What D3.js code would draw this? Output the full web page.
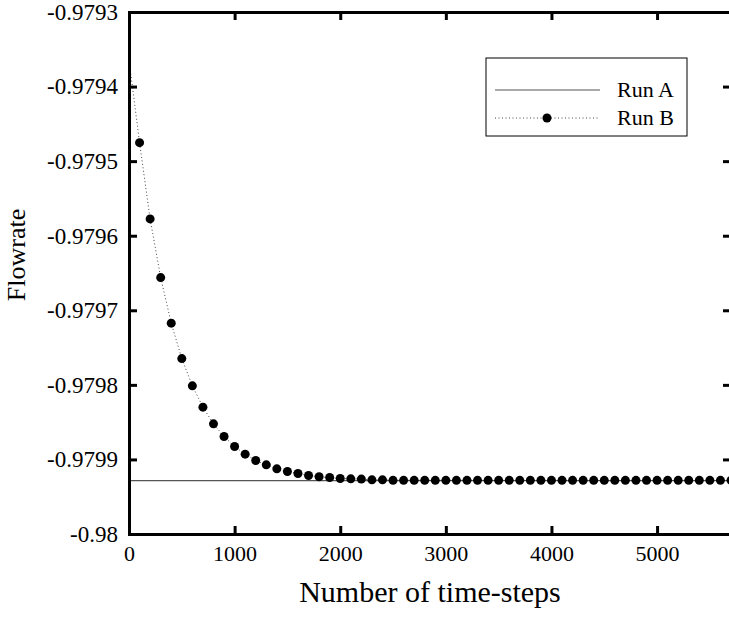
<!DOCTYPE html>
<html>
<head>
<meta charset="utf-8">
<script src="https://cdn.jsdelivr.net/npm/d3@7"></script>
<style>
  body { margin: 0; background: #fff; }
  svg text { font-family: "Liberation Serif", "DejaVu Serif", serif; fill: #000; }
</style>
</head>
<body>
<div id="chart"></div>
<script>
const width = 729;
const height = 620;
const margin = { left: 129, right: -2, top: 12, bottom: 86 };

// Run B, sampled every 100 time-steps
const run_b_steps = [0, 100, 200, 300, 400, 500, 600, 700, 800, 900,
  1000, 1100, 1200, 1300, 1400, 1500, 1600, 1700, 1800, 1900,
  2000, 2100, 2200, 2300, 2400, 2500, 2600, 2700, 2800, 2900,
  3000, 3100, 3200, 3300, 3400, 3500, 3600, 3700, 3800, 3900,
  4000, 4100, 4200, 4300, 4400, 4500, 4600, 4700, 4800, 4900,
  5000, 5100, 5200, 5300, 5400, 5500, 5600, 5700];
const run_b_flow = [-0.979364, -0.9794752, -0.9795775, -0.9796562, -0.9797173, -0.9797648, -0.9798013, -0.9798299, -0.9798523, -0.9798693,
  -0.9798827, -0.9798929, -0.9799015, -0.9799073, -0.9799126, -0.9799162, -0.9799189, -0.9799216, -0.9799233, -0.9799243,
  -0.9799256, -0.979926, -0.9799264, -0.9799274, -0.9799274, -0.979928, -0.979928, -0.979928, -0.979928, -0.979928,
  -0.979928, -0.979928, -0.979928, -0.979928, -0.979928, -0.979928, -0.979928, -0.979928, -0.979928, -0.979928,
  -0.979928, -0.979928, -0.979928, -0.979928, -0.979928, -0.979928, -0.979928, -0.979928, -0.979928, -0.979928,
  -0.979928, -0.979928, -0.979928, -0.979928, -0.979928, -0.979928, -0.979928, -0.979928];

// Run A is flat
const run_a_steps = [0, 5700];
const run_a_flow = [-0.9799283, -0.9799283];

const x_ticks = [0, 1000, 2000, 3000, 4000, 5000];
const y_ticks = [-0.9793, -0.9794, -0.9795, -0.9796, -0.9797, -0.9798, -0.9799, -0.98];
const y_tick_labels = ['-0.9793', '-0.9794', '-0.9795', '-0.9796', '-0.9797', '-0.9798', '-0.9799', '-0.98'];
const series_names = ['Run A', 'Run B'];

const inner_w = width - margin.left - margin.right;
const inner_h = height - margin.top - margin.bottom;

const x_scale = d3.scaleLinear().domain([0, 5700]).range([0, inner_w]);
const y_scale = d3.scaleLinear().domain([-0.9793, -0.98]).range([0, inner_h]);

const svg = d3.select('#chart')
  .append('svg')
    .attr('width', width)
    .attr('height', height);
const g = svg.append('g')
    .attr('transform', 'translate(' + margin.left + ',' + margin.top + ')');

// data lines
const run_a = run_a_steps.map((s, i) => ({ step: s, flow: run_a_flow[i] }));
const run_b = run_b_steps.map((s, i) => ({ step: s, flow: run_b_flow[i] }));
const line = d3.line().x(d => x_scale(d.step)).y(d => y_scale(d.flow));

g.append('path')
    .datum(run_a)
    .attr('d', line)
    .attr('fill', 'none')
    .attr('stroke', '#555')
    .attr('stroke-width', 1.2);

g.append('path')
    .datum(run_b)
    .attr('d', line)
    .attr('fill', 'none')
    .attr('stroke', '#444')
    .attr('stroke-width', 1)
    .attr('stroke-dasharray', '1,2.5');

g.selectAll('circle.pt')
    .data(run_b.filter(d => d.step > 0))
  .join('circle')
    .attr('class', 'pt')
    .attr('cx', d => x_scale(d.step))
    .attr('cy', d => y_scale(d.flow))
    .attr('r', 4.5)
    .attr('fill', '#000');

// axes, ticks pointing inward, mirrored on top/right
const tick_len = 8;
const x_axis = d3.axisBottom(x_scale).tickValues(x_ticks).tickSize(-tick_len).tickPadding(tick_len + 3)
  .tickFormat(d3.format('d'));
const y_axis = d3.axisLeft(y_scale).tickValues(y_ticks).tickSize(-tick_len).tickPadding(tick_len + 3)
  .tickFormat((d, i) => y_tick_labels[i]);

const xg = g.append('g').attr('transform', 'translate(0,' + inner_h + ')').call(x_axis);
const yg = g.append('g').call(y_axis);
const xt = g.append('g').call(d3.axisTop(x_scale).tickValues(x_ticks).tickSize(-tick_len).tickFormat(''));
const yr = g.append('g').attr('transform', 'translate(' + inner_w + ',0)')
  .call(d3.axisRight(y_scale).tickValues(y_ticks).tickSize(-tick_len).tickFormat(''));

[xg, yg, xt, yr].forEach(a => {
  a.attr('font-family', '"Liberation Serif", serif').attr('font-size', 22);
  a.select('.domain').attr('stroke', '#000').attr('stroke-width', 3);
  a.selectAll('.tick line').attr('stroke', '#000').attr('stroke-width', 3);
});
yg.attr('font-size', 23);
xg.selectAll('.tick text').attr('dy', '0.71em');

// axis titles
svg.append('text')
    .attr('x', margin.left + inner_w / 2)
    .attr('y', 602)
    .attr('text-anchor', 'middle')
    .attr('font-size', 30)
    .text('Number of time-steps');

svg.append('text')
    .attr('transform', 'translate(25,255) rotate(-90)')
    .attr('text-anchor', 'middle')
    .attr('font-size', 26)
    .text('Flowrate');

// legend
const lg = svg.append('g').attr('transform', 'translate(486,58)');
lg.append('rect')
    .attr('width', 201).attr('height', 78)
    .attr('fill', '#fff').attr('stroke', '#000').attr('stroke-width', 1);
lg.append('line')
    .attr('x1', 9).attr('x2', 114).attr('y1', 32).attr('y2', 32)
    .attr('stroke', '#555').attr('stroke-width', 1.2);
lg.append('line')
    .attr('x1', 9).attr('x2', 114).attr('y1', 60).attr('y2', 60)
    .attr('stroke', '#444').attr('stroke-width', 1).attr('stroke-dasharray', '1,2.5');
lg.append('circle').attr('cx', 61).attr('cy', 60).attr('r', 4.5).attr('fill', '#000');
lg.selectAll('text.lab')
    .data(series_names)
  .join('text')
    .attr('class', 'lab')
    .attr('x', 131)
    .attr('y', (d, i) => 39 + i * 28)
    .attr('font-size', 22)
    .text(d => d);
</script>
</body>
</html>
